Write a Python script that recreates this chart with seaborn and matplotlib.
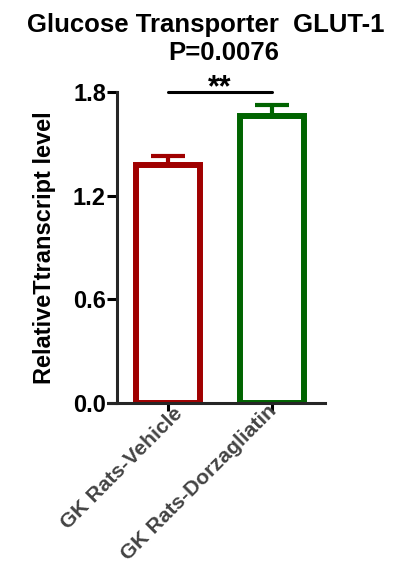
import matplotlib
matplotlib.use("Agg")
import matplotlib.pyplot as plt
import matplotlib.transforms as mtransforms
import seaborn as sns
import pandas as pd

categories = ["GK Rats-Vehicle", "GK Rats-Dorzagliatin"]
means = [1.375, 1.66]
sems = [0.055, 0.065]
colors = ["#A00000", "#006400"]
yticks = [0.0, 0.6, 1.2, 1.8]
ytick_labels = ["0.0", "0.6", "1.2", "1.8"]

sns.set_style("ticks")
plt.rcParams['font.family'] = ['Liberation Sans', 'DejaVu Sans']
plt.rcParams['font.weight'] = 'bold'
plt.rcParams['text.color'] = 'black'
plt.rcParams['axes.labelcolor'] = 'black'
plt.rcParams['xtick.color'] = 'black'
plt.rcParams['ytick.color'] = 'black'

fig = plt.figure(figsize=(3.95, 5.63), dpi=100)
ax = fig.add_axes([108/395, 1-403/563, (325-108)/395, (403-92)/563])

df = pd.DataFrame({"group": categories, "value": means})
sns.barplot(data=df, x="group", y="value", hue="group", palette=colors,
            fill=False, width=0.62, linewidth=4.3, legend=False, ax=ax,
            errorbar=None)

for i, (m, s, c) in enumerate(zip(means, sems, colors)):
    ax.errorbar(i, m, yerr=[[0], [s]], fmt='none', ecolor=c, elinewidth=3,
                capsize=12, capthick=3, clip_on=False, zorder=3)

for sp in ['top', 'right']:
    ax.spines[sp].set_visible(False)
ax.spines['left'].set_linewidth(2.2)
ax.spines['bottom'].set_linewidth(2.2)
ax.spines['left'].set_position(('data', -0.49))

ax.set_xlim(-0.577, 1.51)
ax.set_ylim(0, 1.8)
ax.set_yticks(yticks)
ax.set_yticklabels(ytick_labels, fontsize=17, fontweight='bold', color='black')
ax.set_xticks([0, 1])
ax.set_xticklabels(categories, rotation=45, ha='right', rotation_mode='anchor',
                   fontsize=15.2, fontweight='bold', color='#444444')
ax.tick_params(axis='y', length=7, width=2.2, pad=1, color='black')
ax.tick_params(axis='x', length=6, width=2.2, pad=3, color='black')
ax.set_xlabel("")
ax.set_ylabel("RelativeTtranscript level", fontsize=17, fontweight='bold',
              labelpad=12, color='black')

# nudge rotated category labels (in points)
for lab, (dx, dy) in zip(ax.get_xticklabels(), [(3.6, 8.6), (-3.6, 10.0)]):
    off = mtransforms.ScaledTranslation(dx/72, dy/72, fig.dpi_scale_trans)
    lab.set_transform(lab.get_transform() + off)

# significance bar
ax.plot([0, 1], [1.8, 1.8], color='black', lw=2.2, clip_on=False)
ax.text(0.5, 1.775, "**", ha='center', va='baseline', fontsize=22, fontweight='bold',
        clip_on=False, color='black')

fig.text(206/395, 1-32/563, "Glucose Transporter  GLUT-1", ha='center', va='baseline',
         fontsize=18.5, fontweight='bold', color='black')
fig.text(224/395, 1-60/563, "P=0.0076", ha='center', va='baseline',
         fontsize=18.5, fontweight='bold', color='black')

fig.savefig("out.png", dpi=100)
